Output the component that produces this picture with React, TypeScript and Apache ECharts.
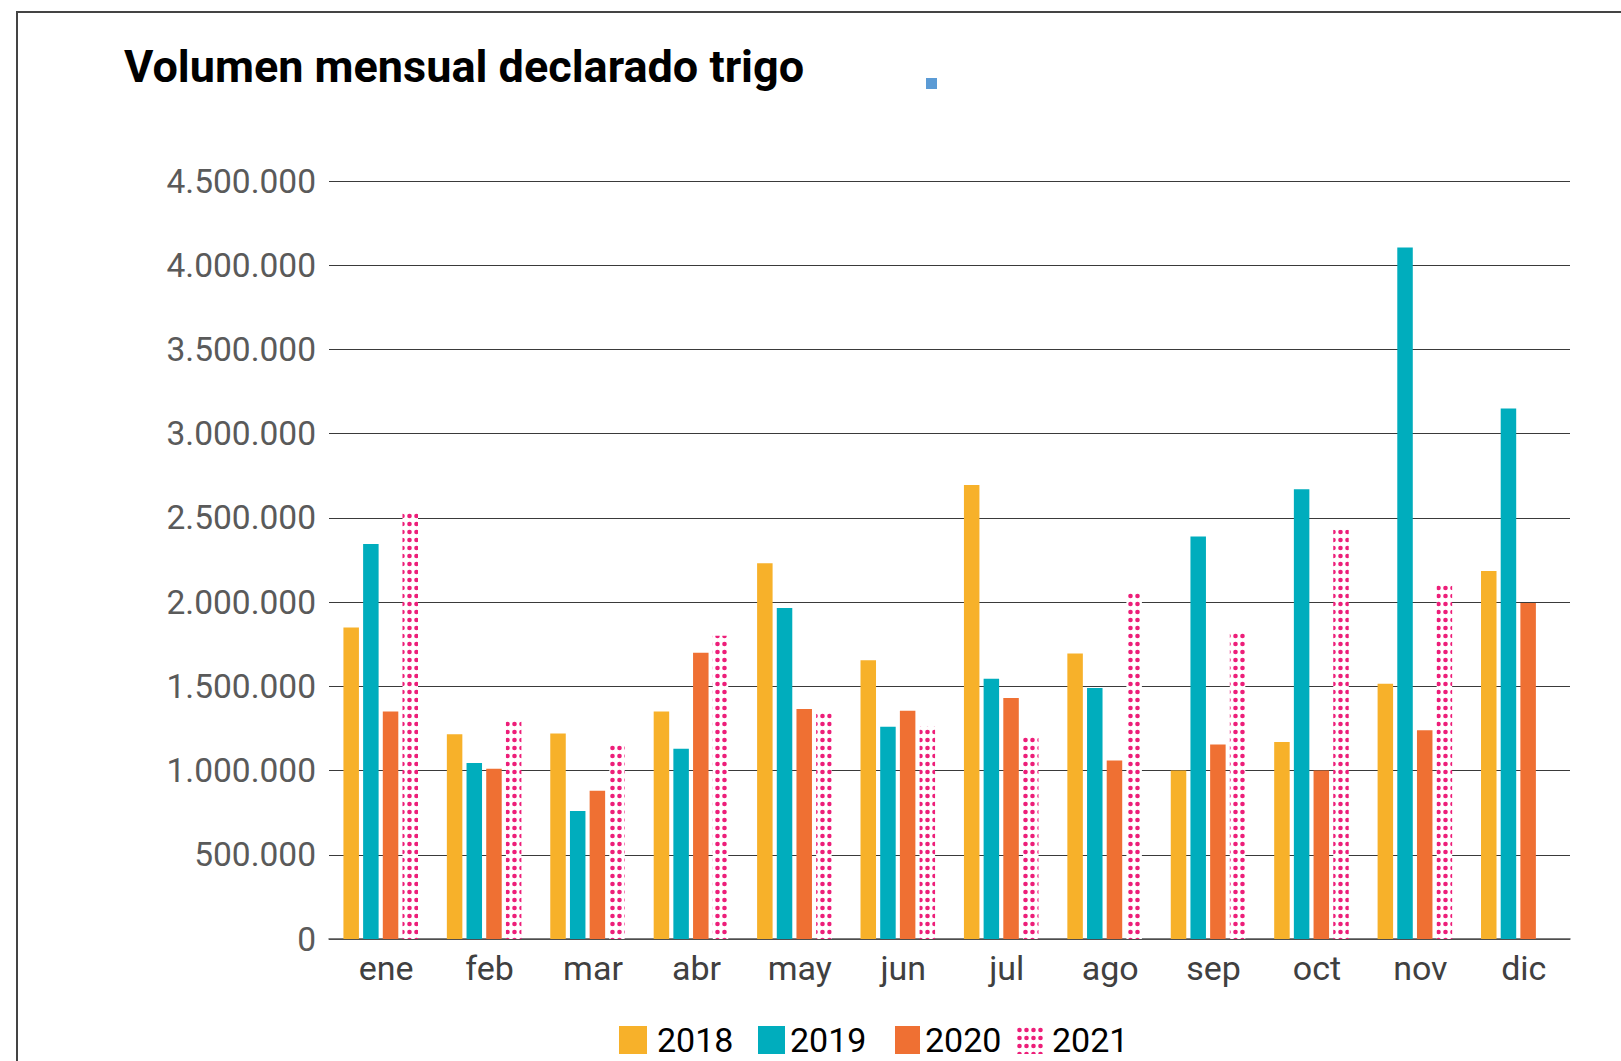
import React, { useEffect, useRef } from "react";
import * as echarts from "echarts";

const months = ["ene", "feb", "mar", "abr", "may", "jun", "jul", "ago", "sep", "oct", "nov", "dic"];
const years = ["2018", "2019", "2020", "2021"];
const v2018 = [1850000, 1215000, 1220000, 1350000, 2230000, 1655000, 2695000, 1695000, 1000000, 1170000, 1515000, 2185000];
const v2019 = [2345000, 1045000, 760000, 1130000, 1965000, 1260000, 1545000, 1490000, 2390000, 2670000, 4105000, 3150000];
const v2020 = [1350000, 1010000, 880000, 1700000, 1365000, 1355000, 1430000, 1060000, 1155000, 1000000, 1240000, 1995000];
const v2021 = [2535000, 1300000, 1160000, 1800000, 1350000, 1265000, 1210000, 2065000, 1825000, 2430000, 2110000, null];
const yMax = 4500000;
const yStep = 500000;
const titleText = "Volumen mensual declarado trigo";

const colors = ["#f7b12a", "#00adbd", "#ef7033", "#ed1e79"];

function fmt(v: number): string {
  return String(v).replace(/\B(?=(\d{3})+(?!\d))/g, ".");
}

export default function App() {
  const ref = useRef<HTMLDivElement>(null);
  useEffect(() => {
    if (!ref.current) return;
    const chart = echarts.init(ref.current, null, { renderer: "svg" });

    const cv = document.createElement("canvas");
    cv.width = 7;
    cv.height = 8;
    const ctx = cv.getContext("2d")!;
    ctx.fillStyle = "#ffffff";
    ctx.fillRect(0, 0, 7, 8);
    ctx.fillStyle = colors[3];
    ctx.beginPath();
    ctx.arc(3.5, 4, 2.3, 0, Math.PI * 2);
    ctx.fill();
    const pattern: any = { image: cv, repeat: "repeat", imageWidth: 7, imageHeight: 8 };

    const seriesData = [v2018, v2019, v2020, v2021];
    const font = "Roboto";
    const legendLefts = [619, 758, 895, 1016];
    const legendIconW = [28, 27, 25, 28];
    const legendTextPad = [5, 0, 0, 3];

    chart.setOption({
      animation: false,
      backgroundColor: "#ffffff",
      title: {
        text: titleText,
        left: 124,
        top: 44,
        padding: 0,
        textStyle: { fontFamily: font, fontWeight: "bold", fontSize: 45, color: "#000000" },
      },
      legend: years.map((y, i) => ({
        data: [y],
        left: legendLefts[i],
        top: 1023,
        padding: 0,
        itemWidth: legendIconW[i],
        itemHeight: 28,
        icon: "rect",
        selectedMode: false,
        textStyle: {
          fontFamily: font,
          fontSize: 34,
          lineHeight: 34,
          color: "#000000",
          padding: [0, 0, 0, legendTextPad[i]],
        },
      })),
      grid: { left: 329, right: 51, top: 181, bottom: 122, containLabel: false },
      xAxis: {
        type: "category",
        data: months,
        axisTick: { show: false },
        axisLine: { show: true, lineStyle: { color: "#555555", width: 1.5 } },
        axisLabel: {
          fontFamily: font,
          fontSize: 34,
          color: "#404040",
          margin: 12,
          padding: [0, 0, 0, 11],
        },
      },
      yAxis: {
        type: "value",
        min: 0,
        max: yMax,
        interval: yStep,
        axisLine: { show: false },
        axisTick: { show: false },
        splitLine: { show: true, lineStyle: { color: "#3a3a3a", width: 1.2 } },
        axisLabel: { fontFamily: font, fontSize: 33.5, color: "#5a5a5a", margin: 13, formatter: (v: number) => fmt(v) },
      },
      series: years.map((y, i) => ({
        name: y,
        type: "bar",
        data: seriesData[i],
        barWidth: 15.5,
        barGap: "27%",
        itemStyle: { color: i === 3 ? pattern : colors[i] },
        emphasis: { disabled: true },
      })),
      graphic: [
        {
          type: "rect",
          silent: true,
          z: -10,
          shape: { x: 17, y: 12, width: 1700, height: 1200 },
          style: { fill: "none", stroke: "#444444", lineWidth: 2 },
        },
        {
          type: "rect",
          silent: true,
          shape: { x: 926, y: 78, width: 11, height: 11 },
          style: { fill: "#5b9bd5" },
        },
      ],
    });
    return () => chart.dispose();
  }, []);
  return (
    <div
      ref={ref}
      style={{ position: "absolute", left: 0, top: 0, width: 1621, height: 1061 }}
    />
  );
}
